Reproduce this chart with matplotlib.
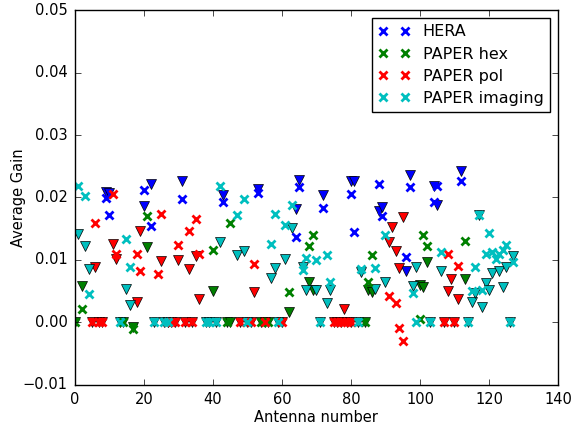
import matplotlib
matplotlib.use('Agg')
import matplotlib.pyplot as plt

# HERA antennas (blue)
HERA_ANT = [9, 10, 20, 22, 31, 43, 53, 64, 65, 72, 80, 81, 88, 89, 96, 97, 104, 105, 112]
HERA_CROSS = [0.0199, 0.0172, 0.0212, 0.0154, 0.0197, 0.0192, 0.0207, 0.0137, 0.0217, 0.0183,
              0.0206, 0.0145, 0.0221, 0.0171, 0.0104, 0.0217, 0.0193, 0.0218, 0.0226]
HERA_TRI = [0.0209, 0.0207, 0.0187, 0.0222, 0.0227, 0.0204, 0.0214, 0.0182, 0.0228, 0.0204,
            0.0227, 0.0227, 0.0178, 0.0185, 0.0083, 0.0236, 0.0218, 0.0188, 0.0242]

# PAPER hex antennas (green)
HEX_ANT = [0, 2, 14, 17, 21, 40, 44, 45, 54, 56, 62, 68, 69, 84, 85, 86, 100, 101, 102, 113]
HEX_CROSS = [0, 0.0022, 0, -0.001, 0.0171, 0.0116, 0, 0.0159, 0, 0, 0.0048, 0.0122, 0.014, 0,
             0.0064, 0.0108, 0.0006, 0.014, 0.0122, 0.013]
HEX_TRI = [0, 0.0058, 0, -0.0008, 0.012, 0.005, 0, 0, 0, 0, 0.0017, 0.0065, 0.0052, 0,
           0.0052, 0.0048, 0.006, 0.0057, 0.0096, 0.0069]

# PAPER pol antennas (red)
POL_CROSS_ANT = [5, 6, 7, 8, 11, 12, 18, 19, 24, 25, 27, 28, 29, 30, 32, 33, 34, 35, 36, 48,
                 51, 52, 55, 60, 75, 76, 77, 78, 79, 80, 91, 93, 94, 95, 107, 108, 110, 111]
POL_CROSS = [0, 0.0159, 0, 0, 0.0206, 0.011, 0.0109, 0.0082, 0.0078, 0.0174, 0, 0, 0, 0.0124,
             0, 0.0146, 0, 0.0165, 0.0109, 0, 0, 0.0093, 0, 0, 0, 0, 0, 0, 0, 0,
             0.0043, 0.0031, -0.0009, -0.0029, 0, 0.0109, 0, 0.009]
POL_TRI_ANT = [5, 6, 7, 8, 11, 12, 18, 19, 25, 27, 28, 29, 30, 32, 33, 34, 35, 36, 48, 51,
               52, 55, 60, 75, 76, 77, 78, 79, 80, 91, 92, 93, 94, 95, 107, 108, 109, 110, 111]
POL_TRI = [0, 0.0089, 0, 0, 0.0126, 0.0101, 0.0032, 0.0146, 0.0098, 0, 0, 0, 0.01, 0,
           0.0086, 0, 0.0106, 0.0037, 0, 0, 0.0049, 0, 0, 0, 0, 0, 0.0022, 0, 0,
           0.0128, 0.0153, 0.0114, 0.0087, 0.0169, 0, 0.0051, 0.007, 0, 0.0038]

# PAPER imaging antennas (cyan)
IMG_CROSS_ANT = [1, 3, 4, 13, 15, 16, 23, 26, 27, 38, 39, 41, 42, 47, 49, 50, 57, 58, 59, 61,
                 63, 66, 67, 70, 71, 73, 74, 82, 83, 87, 90, 98, 99, 103, 106, 114, 115, 116,
                 117, 118, 119, 120, 121, 122, 123, 124, 125, 126, 127]
IMG_CROSS = [0.0219, 0.0203, 0.0046, 0, 0.0133, 0.0089, 0, 0, 0, 0,
             0, 0, 0.0219, 0.0172, 0.0197, 0, 0.0126, 0.0173, 0, 0.0156,
             0.0188, 0.0084, 0.0103, 0.01, 0, 0.0108, 0.0065, 0, 0.0085, 0.0087,
             0.014, 0.0047, 0, 0, 0.0112, 0, 0.005, 0.0089, 0.0172, 0.0052,
             0.011, 0.0143, 0.0113, 0.0102, 0.0109, 0.0116, 0.0124, 0, 0.0097]
IMG_TRI_ANT = [1, 3, 4, 13, 15, 16, 23, 26, 27, 38, 39, 41, 42, 47, 49, 50, 57, 58, 59, 61,
               63, 66, 67, 70, 71, 73, 74, 82, 83, 87, 90, 98, 99, 103, 106, 114, 115, 116,
               117, 118, 119, 120, 121, 123, 124, 125, 126, 127]
IMG_TRI = [0.0141, 0.0122, 0.0086, 0, 0.0054, 0.0028, 0, 0, 0, 0,
           0, 0, 0.0129, 0.0108, 0.0114, 0, 0.0071, 0.0087, 0, 0.0102,
           0.0151, 0.0089, 0.0052, 0.0052, 0, 0.0031, 0.0052, 0, 0.0081, 0.0053,
           0.0065, 0.0058, 0.0089, 0, 0.0082, 0, 0.0033, 0.0047, 0.0172, 0.0024,
           0.0063, 0.0052, 0.0079, 0.0083, 0.0056, 0.0089, 0, 0.0106]

plt.style.use('classic')
plt.rcParams['font.family'] = ['DejaVu Sans']

fig = plt.figure(figsize=(5.72, 4.3), dpi=100)
ax = fig.add_axes([0.1306, 0.1047, 0.845, 0.872])

groups = [
    (HERA_ANT, HERA_CROSS, HERA_ANT, HERA_TRI, 'b', 'HERA'),
    (HEX_ANT, HEX_CROSS, HEX_ANT, HEX_TRI, 'g', 'PAPER hex'),
    (POL_CROSS_ANT, POL_CROSS, POL_TRI_ANT, POL_TRI, 'r', 'PAPER pol'),
    (IMG_CROSS_ANT, IMG_CROSS, IMG_TRI_ANT, IMG_TRI, 'c', 'PAPER imaging'),
]

for xa, xg, ta, tg, c, lbl in groups:
    ax.plot(ta, tg, 'v', color=c, mec='k', mew=0.5, ms=7, linestyle='none')
for xa, xg, ta, tg, c, lbl in groups:
    ax.plot(xa, xg, 'x', color=c, mew=2, ms=6, linestyle='none', label=lbl)

ax.set_xlim(0, 140)
ax.set_ylim(-0.01, 0.05)
ax.tick_params(labelsize=10.5)
ax.tick_params(axis='y', pad=5)
ax.tick_params(axis='x', pad=5)
ax.set_xlabel('Antenna number', fontsize=10.5, labelpad=2)
ax.set_ylabel('Average Gain', fontsize=10.5, labelpad=-2)
ax.legend(loc='upper right', fontsize=11.5, labelspacing=0.45, borderaxespad=0.5)

fig.savefig('out.png', dpi=100)
